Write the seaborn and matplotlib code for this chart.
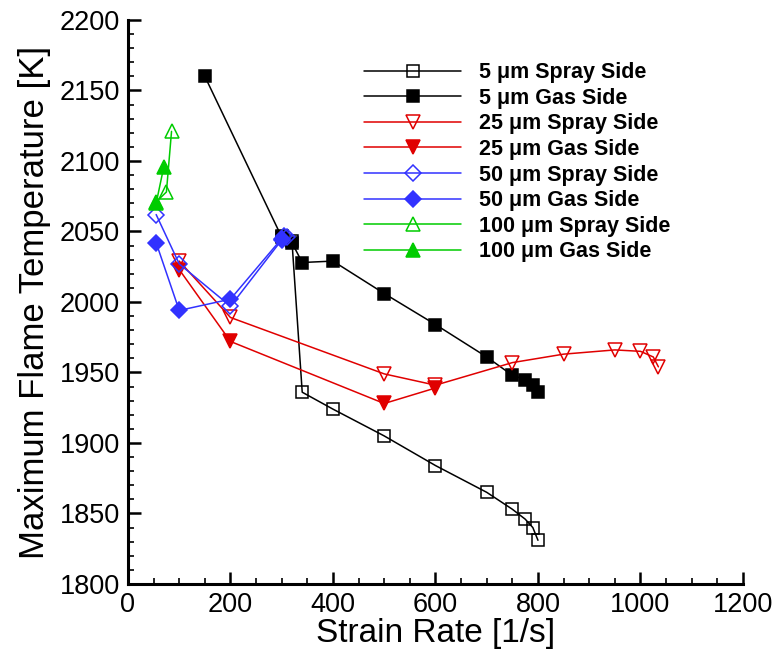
import matplotlib
matplotlib.use("Agg")
import matplotlib.pyplot as plt
import seaborn as sns
import pandas as pd
from matplotlib.ticker import MultipleLocator

# ---- data ----
x_5_spray = [300, 320, 340, 400, 500, 600, 700, 750, 775, 790, 800]
y_5_spray = [2047, 2043, 1936, 1924, 1905, 1884, 1865, 1853, 1846, 1840, 1831]
x_5_gas = [150, 300, 320, 340, 400, 500, 600, 700, 750, 775, 790, 800]
y_5_gas = [2160, 2046, 2042, 2028, 2029, 2006, 1984, 1961, 1948, 1945, 1941, 1936]
x_25_spray = [100, 200, 500, 600, 750, 850, 950, 1000, 1025, 1035]
y_25_spray = [2029, 1989, 1949, 1941, 1957, 1963, 1966, 1965, 1961, 1954]
x_25_gas = [100, 200, 500, 600]
y_25_gas = [2023, 1972, 1928, 1939]
x_50_spray = [55, 100, 200, 300, 305, 310]
y_50_spray = [2062, 2027, 1997, 2044, 2047, 2046]
x_50_gas = [55, 100, 200, 300]
y_50_gas = [2042, 1994, 2002, 2045]
x_100_spray = [55, 75, 85]
y_100_spray = [2071, 2078, 2121]
x_100_gas = [55, 70]
y_100_gas = [2070, 2096]

labels = ["5 \u03bcm Spray Side", "5 \u03bcm Gas Side",
          "25 \u03bcm Spray Side", "25 \u03bcm Gas Side",
          "50 \u03bcm Spray Side", "50 \u03bcm Gas Side",
          "100 \u03bcm Spray Side", "100 \u03bcm Gas Side"]

series = [
    (x_5_spray, y_5_spray), (x_5_gas, y_5_gas),
    (x_25_spray, y_25_spray), (x_25_gas, y_25_gas),
    (x_50_spray, y_50_spray), (x_50_gas, y_50_gas),
    (x_100_spray, y_100_spray), (x_100_gas, y_100_gas),
]

RED = "#e00000"
BLUE = "#3232ff"
GREEN = "#00cc00"
styles = [
    dict(color="black", marker="s", open=True, ms=9),
    dict(color="black", marker="s", open=False, ms=9),
    dict(color=RED, marker="v", open=True, ms=10),
    dict(color=RED, marker="v", open=False, ms=10),
    dict(color=BLUE, marker="D", open=True, ms=8),
    dict(color=BLUE, marker="D", open=False, ms=8),
    dict(color=GREEN, marker="^", open=True, ms=10),
    dict(color=GREEN, marker="^", open=False, ms=10),
]

sns.set_style("white")
plt.rcParams["font.family"] = ["Liberation Sans", "DejaVu Sans"]
plt.rcParams["text.color"] = "black"
plt.rcParams["axes.labelcolor"] = "black"
plt.rcParams["xtick.color"] = "black"
plt.rcParams["ytick.color"] = "black"

fig = plt.figure(figsize=(7.77, 6.53), dpi=100)
ax = fig.add_axes([0.1647, 0.1057, 0.7915, 0.8637])

for (xs, ys), lab, st in zip(series, labels, styles):
    df = pd.DataFrame({"x": xs, "y": ys})
    sns.lineplot(data=df, x="x", y="y", ax=ax, sort=False, estimator=None,
                 color=st["color"], linewidth=1.1, label=lab,
                 marker=st["marker"], markersize=st["ms"],
                 markerfacecolor=("none" if st["open"] else st["color"]),
                 markeredgecolor=st["color"], markeredgewidth=1.1)

ax.set_xlim(0, 1200)
ax.set_ylim(1800, 2200)
ax.xaxis.set_major_locator(MultipleLocator(200))
ax.xaxis.set_minor_locator(MultipleLocator(50))
ax.yaxis.set_major_locator(MultipleLocator(50))
ax.yaxis.set_minor_locator(MultipleLocator(10))
ax.tick_params(which="both", direction="in", top=False, right=False,
               left=True, bottom=True, width=1.8, color="black",
               labelcolor="black")
ax.tick_params(which="major", length=9, labelsize=19.5, pad=6)
ax.tick_params(which="minor", length=4.5, width=1.2)

for s in ["top", "right"]:
    ax.spines[s].set_visible(False)
for s in ["left", "bottom"]:
    ax.spines[s].set_linewidth(2.2)
    ax.spines[s].set_color("black")

ax.set_xlabel("Strain Rate [1/s]", fontsize=24, labelpad=0, color="black")
ax.set_ylabel("Maximum Flame Temperature [K]", fontsize=25, labelpad=6,
              color="black")
ax.grid(False)

leg = ax.legend(loc="upper left", bbox_to_anchor=(0.37, 0.94), frameon=False,
                prop={"weight": "bold", "size": 15.5}, handlelength=4.5,
                handletextpad=0.85, labelspacing=0.21, borderaxespad=0)
for t in leg.get_texts():
    t.set_color("black")

fig.savefig("out.png", dpi=100)
